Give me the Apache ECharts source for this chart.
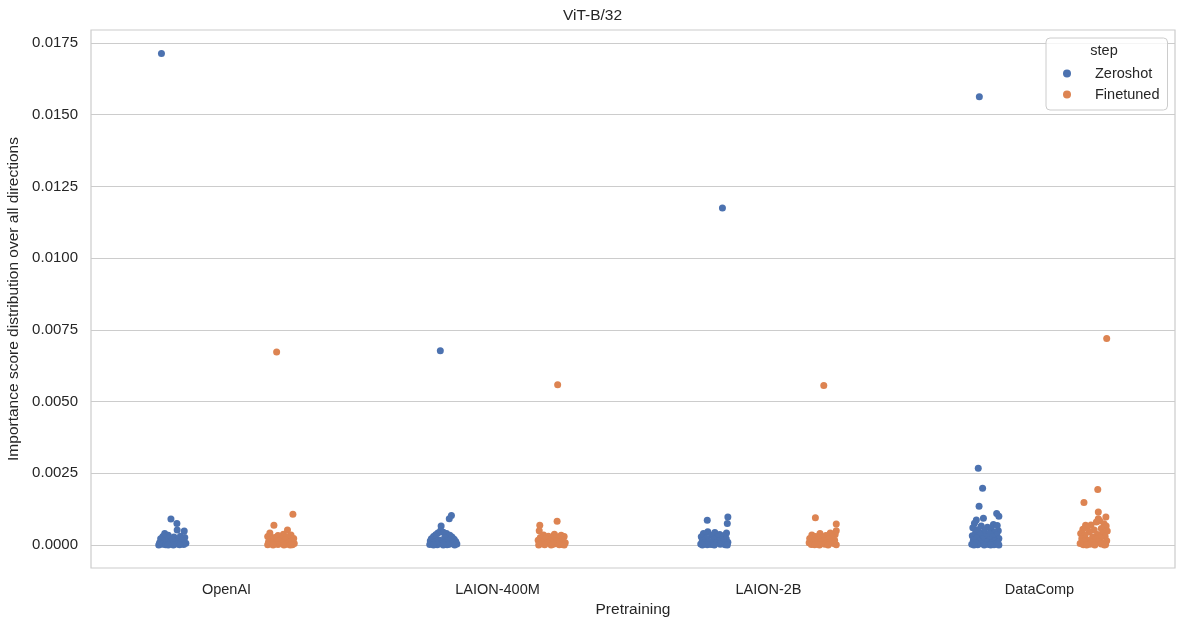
<!DOCTYPE html>
<html>
<head>
<meta charset="utf-8">
<script src="https://cdn.jsdelivr.net/npm/echarts@6/dist/echarts.min.js"></script>
<style>
  html, body { margin: 0; padding: 0; background: #fff; }
  #main { width: 1185px; height: 627px; }
</style>
</head>
<body>
<div id="main"></div>
<script>
var categories = ['OpenAI', 'LAION-400M', 'LAION-2B', 'DataComp'];
var yTicks = [0, 0.0025, 0.005, 0.0075, 0.01, 0.0125, 0.015, 0.0175];

// importance scores, one list per pretraining
var zeroshotOpenAI = [0.01713, 0.00091, 0.00075, 0.00052, 0.00049, 0.00040, 0.00034, 0.00030, 0.00031, 0.00028,
    0.00026, 0.00024, 0.00022, 0.00020, 0.00018, 0.00016, 0.00014, 0.00012, 0.00010, 0.00009,
    0.00008, 0.00006, 0.00005, 0.00004, 0.00003, 0.00002, 0.00001, 0.00001, 0, 0, 0];
var zeroshotLaion400m = [0.00677, 0.00103, 0.00092, 0.00066, 0.00050, 0.00045, 0.00042, 0.00040, 0.00036, 0.00034,
    0.00030, 0.00028, 0.00025, 0.00022, 0.00020, 0.00018, 0.00016, 0.00014, 0.00012, 0.00010,
    0.00009, 0.00007, 0.00006, 0.00005, 0.00004, 0.00003, 0.00002, 0.00001, 0.00001, 0, 0, 0];
var zeroshotLaion2b = [0.01175, 0.00098, 0.00086, 0.00075, 0.00046, 0.00044, 0.00042, 0.00040, 0.00037, 0.00034,
    0.00032, 0.00029, 0.00027, 0.00024, 0.00022, 0.00020, 0.00018, 0.00016, 0.00014, 0.00012,
    0.00010, 0.00009, 0.00007, 0.00006, 0.00004, 0.00003, 0.00002, 0.00001, 0.00001, 0, 0, 0];
var zeroshotDatacomp = [0.01562, 0.00268, 0.00198, 0.00135, 0.00110, 0.00100, 0.00093, 0.00087, 0.00076, 0.00072,
    0.00068, 0.00066, 0.00062, 0.00060, 0.00056, 0.00053, 0.00050, 0.00047, 0.00045, 0.00042,
    0.00040, 0.00037, 0.00035, 0.00032, 0.00030, 0.00028, 0.00025, 0.00023, 0.00021, 0.00019,
    0.00017, 0.00015, 0.00013, 0.00011, 0.00010, 0.00008, 0.00007, 0.00005, 0.00004, 0.00003,
    0.00002, 0.00001, 0.00001, 0, 0, 0, 0];

var finetunedOpenAI = [0.00673, 0.00107, 0.00069, 0.00052, 0.00042, 0.00038, 0.00035, 0.00033, 0.00030, 0.00029,
    0.00026, 0.00023, 0.00021, 0.00019, 0.00017, 0.00015, 0.00013, 0.00011, 0.00010, 0.00008,
    0.00007, 0.00005, 0.00004, 0.00003, 0.00002, 0.00001, 0.00001, 0, 0, 0];
var finetunedLaion400m = [0.00559, 0.00083, 0.00069, 0.00050, 0.00038, 0.00035, 0.00034, 0.00031, 0.00030, 0.00028,
    0.00026, 0.00024, 0.00021, 0.00019, 0.00017, 0.00015, 0.00013, 0.00011, 0.00010, 0.00008,
    0.00007, 0.00005, 0.00004, 0.00003, 0.00002, 0.00001, 0.00001, 0, 0, 0];
var finetunedLaion2b = [0.00556, 0.00095, 0.00073, 0.00050, 0.00042, 0.00040, 0.00037, 0.00035, 0.00033, 0.00030,
    0.00028, 0.00026, 0.00023, 0.00021, 0.00019, 0.00017, 0.00015, 0.00013, 0.00011, 0.00010,
    0.00008, 0.00007, 0.00005, 0.00004, 0.00003, 0.00002, 0.00001, 0.00001, 0, 0, 0];
var finetunedDatacomp = [0.00720, 0.00194, 0.00148, 0.00115, 0.00098, 0.00092, 0.00069, 0.00085, 0.00080, 0.00074,
    0.00070, 0.00066, 0.00062, 0.00058, 0.00055, 0.00052, 0.00049, 0.00046, 0.00043, 0.00040,
    0.00037, 0.00034, 0.00031, 0.00028, 0.00025, 0.00022, 0.00020, 0.00017, 0.00015, 0.00013,
    0.00011, 0.00009, 0.00007, 0.00005, 0.00004, 0.00003, 0.00002, 0.00001, 0, 0, 0];

// strip jitter (fraction of a category)
var zeroshotJitter = [
    [-0.040, -0.005, 0.017, 0.018, 0.044, -0.028, -0.015, -0.035, 0.030, 0.006,
     0.046, -0.010, -0.043, 0.022, 0.000, 0.038, -0.030, 0.012, -0.020, 0.033,
     -0.047, 0.050, -0.008, 0.018, -0.038, 0.042, -0.025, 0.027, 0.004, -0.050, -0.015],
    [-0.011, 0.030, 0.022, -0.008, -0.010, 0.000, -0.020, 0.012, -0.028, 0.024,
     -0.036, 0.032, 0.005, -0.044, 0.040, -0.015, 0.018, -0.048, 0.046, -0.030,
     0.008, 0.036, -0.040, -0.004, 0.050, 0.022, -0.050, -0.022, 0.014, 0.042, -0.036, 0.000],
    [0.030, 0.050, -0.026, 0.048, -0.024, 0.002, 0.045, -0.040, 0.020, -0.010,
     0.034, -0.048, 0.010, -0.030, 0.044, -0.002, 0.026, -0.044, 0.014, -0.018,
     0.050, 0.036, -0.036, 0.006, -0.050, 0.022, -0.012, 0.040, -0.026, 0.000, 0.048, -0.044],
    [-0.022, -0.026, -0.010, -0.023, 0.042, 0.050, -0.007, -0.033, -0.040, 0.030,
     0.044, -0.015, 0.008, -0.046, 0.022, -0.028, 0.048, -0.004, 0.036, -0.036,
     0.014, -0.020, 0.042, -0.048, 0.000, 0.026, -0.032, 0.050, -0.010, 0.018,
     -0.044, 0.034, -0.024, 0.006, 0.046, -0.038, 0.024, -0.014, 0.040, -0.050,
     0.012, -0.028, 0.032, -0.004, 0.050, -0.042, 0.020]
];
var finetunedJitter = [
    [-0.015, 0.045, -0.025, 0.025, -0.040, 0.010, 0.038, -0.010, -0.048, 0.026,
     -0.022, 0.048, 0.002, -0.035, 0.018, -0.005, 0.040, -0.045, 0.030, -0.018,
     0.008, 0.050, -0.030, 0.022, -0.010, 0.043, -0.048, 0.012, -0.028, 0.035],
    [0.022, 0.020, -0.044, -0.046, 0.010, -0.030, 0.035, -0.012, 0.046, 0.024,
     -0.042, 0.002, -0.022, 0.040, -0.050, 0.014, -0.006, 0.030, -0.036, 0.050,
     -0.016, 0.020, -0.044, 0.006, 0.038, -0.026, 0.028, -0.002, 0.046, -0.048],
    [0.004, -0.027, 0.050, 0.050, 0.028, -0.010, 0.046, -0.040, 0.012, -0.026,
     0.036, -0.002, -0.048, 0.022, -0.016, 0.044, 0.004, -0.034, 0.030, -0.008,
     -0.050, 0.016, 0.040, -0.022, 0.008, -0.042, 0.050, -0.030, 0.020, -0.012],
    [0.048, 0.015, -0.036, 0.017, 0.045, 0.017, -0.030, 0.022, 0.010, 0.038,
     -0.010, 0.046, -0.024, 0.028, -0.040, 0.002, 0.050, -0.016, 0.034, -0.048,
     0.014, -0.032, 0.042, -0.004, 0.024, -0.044, 0.008, -0.022, 0.048, -0.036,
     0.018, -0.008, 0.036, -0.050, 0.028, -0.014, 0.044, -0.038, 0.004, -0.026, 0.040]
];

var zeroshotValues = [zeroshotOpenAI, zeroshotLaion400m, zeroshotLaion2b, zeroshotDatacomp];
var finetunedValues = [finetunedOpenAI, finetunedLaion400m, finetunedLaion2b, finetunedDatacomp];

function stripPoints(valuesList, jitterList, dodge) {
    var pts = [];
    valuesList.forEach(function (vals, i) {
        vals.forEach(function (v, k) {
            pts.push([i + dodge + jitterList[i][k], v]);
        });
    });
    return pts;
}

var textColor = '#262626';
var fontFamily = '"Liberation Sans", Arial, sans-serif';

var myChart = echarts.init(document.getElementById('main'));
option = {
    animation: false,
    textStyle: { fontFamily: fontFamily },
    title: {
        text: 'ViT-B/32',
        left: 'center',
        top: 3,
        textStyle: { fontWeight: 'normal', fontSize: 15.5, color: textColor, fontFamily: fontFamily }
    },
    color: ['#4c72b0', '#dd8452'],
    grid: {
        left: 91, right: 10, top: 30, bottom: 59,
        outerBoundsMode: 'none',
        containLabel: false,
        show: true,
        borderColor: '#cccccc',
        borderWidth: 1.2
    },
    legend: {
        data: ['Zeroshot', 'Finetuned'],
        orient: 'vertical',
        left: 1046,
        top: 38,
        padding: [28, 8, 8, 17],
        itemWidth: 8,
        itemHeight: 8,
        itemGap: 6,
        icon: 'circle',
        backgroundColor: 'rgba(255,255,255,0.8)',
        borderColor: '#cccccc',
        borderWidth: 1,
        borderRadius: 4,
        textStyle: { fontSize: 14.5, color: textColor, padding: [0, 0, 0, 19], lineHeight: 14, fontFamily: fontFamily }
    },
    graphic: [{
        type: 'text',
        x: 1104,
        y: 51,
        z: 100,
        style: { text: 'step', align: 'center', verticalAlign: 'middle', fontSize: 14.5, fill: textColor, fontFamily: fontFamily }
    }],
    xAxis: [
        {
            type: 'category',
            data: categories,
            name: 'Pretraining',
            nameLocation: 'middle',
            nameGap: 34,
            nameTextStyle: { fontSize: 15.5, color: textColor },
            axisLine: { show: false },
            axisTick: { show: false },
            axisLabel: { fontSize: 14.5, color: textColor, margin: 14 },
            splitLine: { show: false }
        },
        {
            type: 'value',
            min: -0.5,
            max: 3.5,
            show: false
        }
    ],
    yAxis: {
        type: 'value',
        min: -0.0008,
        max: 0.01795,
        name: 'Importance score distribution over all directions',
        nameLocation: 'middle',
        nameGap: 65,
        nameTextStyle: { fontSize: 15.5, color: textColor },
        axisLine: { show: false },
        axisTick: { show: false, customValues: yTicks },
        axisLabel: {
            customValues: yTicks,
            fontSize: 15,
            color: textColor,
            margin: 13,
            formatter: function (v) { return v.toFixed(4); }
        },
        splitLine: { show: true, lineStyle: { color: '#cccccc', width: 1.2 } }
    },
    series: [
        {
            name: 'Zeroshot',
            type: 'scatter',
            xAxisIndex: 1,
            symbolSize: 7,
            itemStyle: { opacity: 1 },
            data: stripPoints(zeroshotValues, zeroshotJitter, -0.2)
        },
        {
            name: 'Finetuned',
            type: 'scatter',
            xAxisIndex: 1,
            symbolSize: 7,
            itemStyle: { opacity: 1 },
            data: stripPoints(finetunedValues, finetunedJitter, 0.2)
        }
    ]
};
myChart.setOption(option);
</script>
</body>
</html>
